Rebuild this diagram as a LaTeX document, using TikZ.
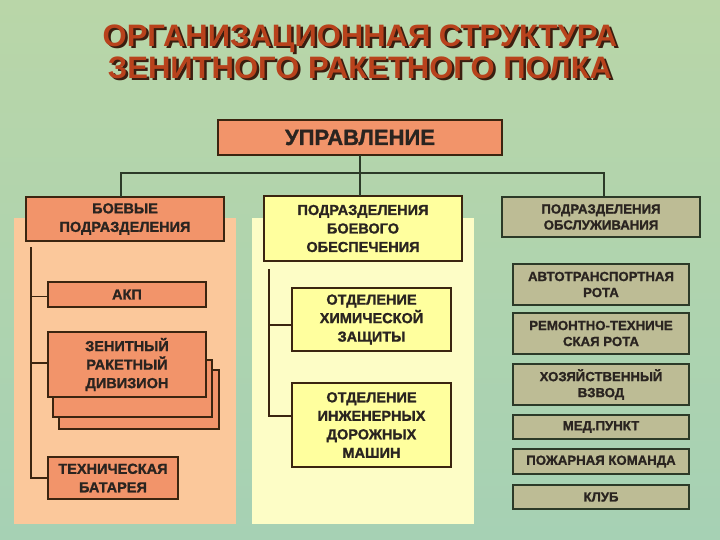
\documentclass[tikz,border=0pt]{standalone}
\usepackage{fontspec}
\setmainfont{Liberation Sans}
\newfontfamily\heavy[FakeBold=1.3]{Liberation Sans Bold}
\definecolor{bgA}{HTML}{B9D6A8}
\definecolor{bgB}{HTML}{A6D1B4}
\definecolor{titleRed}{HTML}{B8421C}
\definecolor{shadowDk}{HTML}{3A1E10}
\definecolor{boxOrange}{HTML}{F2946A}
\definecolor{panelPeach}{HTML}{FBC89B}
\definecolor{boxYellow}{HTML}{FFFF9E}
\definecolor{panelYellow}{HTML}{FDFDC6}
\definecolor{boxKhaki}{HTML}{BDBC95}
\definecolor{lineBrown}{HTML}{3B2510}
\definecolor{lineGreen}{HTML}{2C3A28}
\definecolor{txtDark}{HTML}{2A2420}
\newcommand\shadowedtext[1]{\leavevmode\rlap{\hspace{2.5pt}\raisebox{-2.5pt}{\color{shadowDk}#1}}#1}
\begin{document}
\begin{tikzpicture}[x=1pt,y=-1pt,
  every node/.style={inner sep=0pt,outer sep=0pt,align=center},
  ttl/.style={font=\bfseries\fontsize{31}{36}\selectfont,text=titleRed},
  bx/.style={draw=lineBrown,line width=1.4pt,text=txtDark,
    font=\heavy\fontsize{14.5}{18.5}\selectfont},
  orng/.style={bx,fill=boxOrange},
  yelw/.style={bx,fill=boxYellow},
  khak/.style={bx,draw=lineGreen,fill=boxKhaki,
    font=\heavy\fontsize{13.2}{16}\selectfont},
  conn/.style={draw=lineBrown,line width=1.8pt},
  connG/.style={draw=lineGreen,line width=1.8pt}
]
\useasboundingbox (0,0) rectangle (720,540);
\shade[top color=bgA,bottom color=bgB] (0,0) rectangle (720,540);

% title
\node[ttl] (t1) at (360,40) {\shadowedtext{ОРГАНИЗАЦИОННАЯ СТРУКТУРА}};
\node[ttl] (t2) at (360,69) {\shadowedtext{ЗЕНИТНОГО РАКЕТНОГО ПОЛКА}};

% panels
\fill[panelPeach] (14,218) rectangle (236,524);
\fill[panelYellow] (252,218) rectangle (474,524);

% top
\node[orng,minimum width=284,minimum height=35,
  font=\heavy\fontsize{22}{24}\selectfont] (upr) at (360,137.5) {УПРАВЛЕНИЕ};
\node[orng,minimum width=198,minimum height=44] (boe) at (125,219)
  {БОЕВЫЕ\\ПОДРАЗДЕЛЕНИЯ};
\node[yelw,minimum width=198,minimum height=65] (obe) at (363,228.5)
  {ПОДРАЗДЕЛЕНИЯ\\БОЕВОГО\\ОБЕСПЕЧЕНИЯ};
\node[khak,minimum width=198,minimum height=40] (obs) at (601,217)
  {ПОДРАЗДЕЛЕНИЯ\\ОБСЛУЖИВАНИЯ};

\coordinate (bus) at (360,173);
\coordinate (busL) at (121,173);
\coordinate (busR) at (604,173);
\draw[connG] (upr.south) -- (bus);
\draw[connG] (busL |- boe.north) -- (busL) -- (busR) -- (busR |- obs.north);
\draw[connG] (bus) -- (bus |- obe.north);

% left column
\node[orng,minimum width=160,minimum height=59] (zr3) at (139,399.5) {};
\node[orng,minimum width=159,minimum height=57] (zr2) at (132.5,388.5) {};
\node[orng,minimum width=158,minimum height=65] (zrd) at (127,364.5)
  {ЗЕНИТНЫЙ\\РАКЕТНЫЙ\\ДИВИЗИОН};
\node[orng,minimum width=158,minimum height=25] (akp) at (127,294.5) {АКП};
\node[orng,minimum width=130,minimum height=42] (tb) at (113,478)
  {ТЕХНИЧЕСКАЯ\\БАТАРЕЯ};
\coordinate (ltop) at (31,247);
\draw[conn] (ltop) |- (tb.west);
\draw[conn] ([yshift=-2]akp.west) -- ([yshift=-2]akp.west -| ltop);
\draw[conn] ([yshift=1.5]zrd.west) -- ([yshift=1.5]zrd.west -| ltop);

% middle column
\node[yelw,minimum width=159,minimum height=63] (hz) at (371.5,319.5)
  {ОТДЕЛЕНИЕ\\ХИМИЧЕСКОЙ\\ЗАЩИТЫ};
\node[yelw,minimum width=159,minimum height=84] (idm) at (371.5,425)
  {ОТДЕЛЕНИЕ\\ИНЖЕНЕРНЫХ\\ДОРОЖНЫХ\\МАШИН};
\coordinate (mtop) at (269,269);
\draw[conn] (mtop) |- ([yshift=9]idm.west);
\draw[conn] ([yshift=-5.5]hz.west) -- ([yshift=-5.5]hz.west -| mtop);

% right column
\node[khak,minimum width=176,minimum height=41] (atr) at (601,284.5)
  {АВТОТРАНСПОРТНАЯ\\РОТА};
\node[khak,minimum width=176,minimum height=41] (rtr) at (601,333.5)
  {РЕМОНТНО-ТЕХНИЧЕ\\СКАЯ РОТА};
\node[khak,minimum width=176,minimum height=41] (hzv) at (601,384.5)
  {ХОЗЯЙСТВЕННЫЙ\\ВЗВОД};
\node[khak,minimum width=176,minimum height=24] (med) at (601,427) {МЕД.ПУНКТ};
\node[khak,minimum width=176,minimum height=25] (pk) at (601,461.5) {ПОЖАРНАЯ КОМАНДА};
\node[khak,minimum width=176,minimum height=24] (klb) at (601,497) {КЛУБ};
\end{tikzpicture}
\end{document}
